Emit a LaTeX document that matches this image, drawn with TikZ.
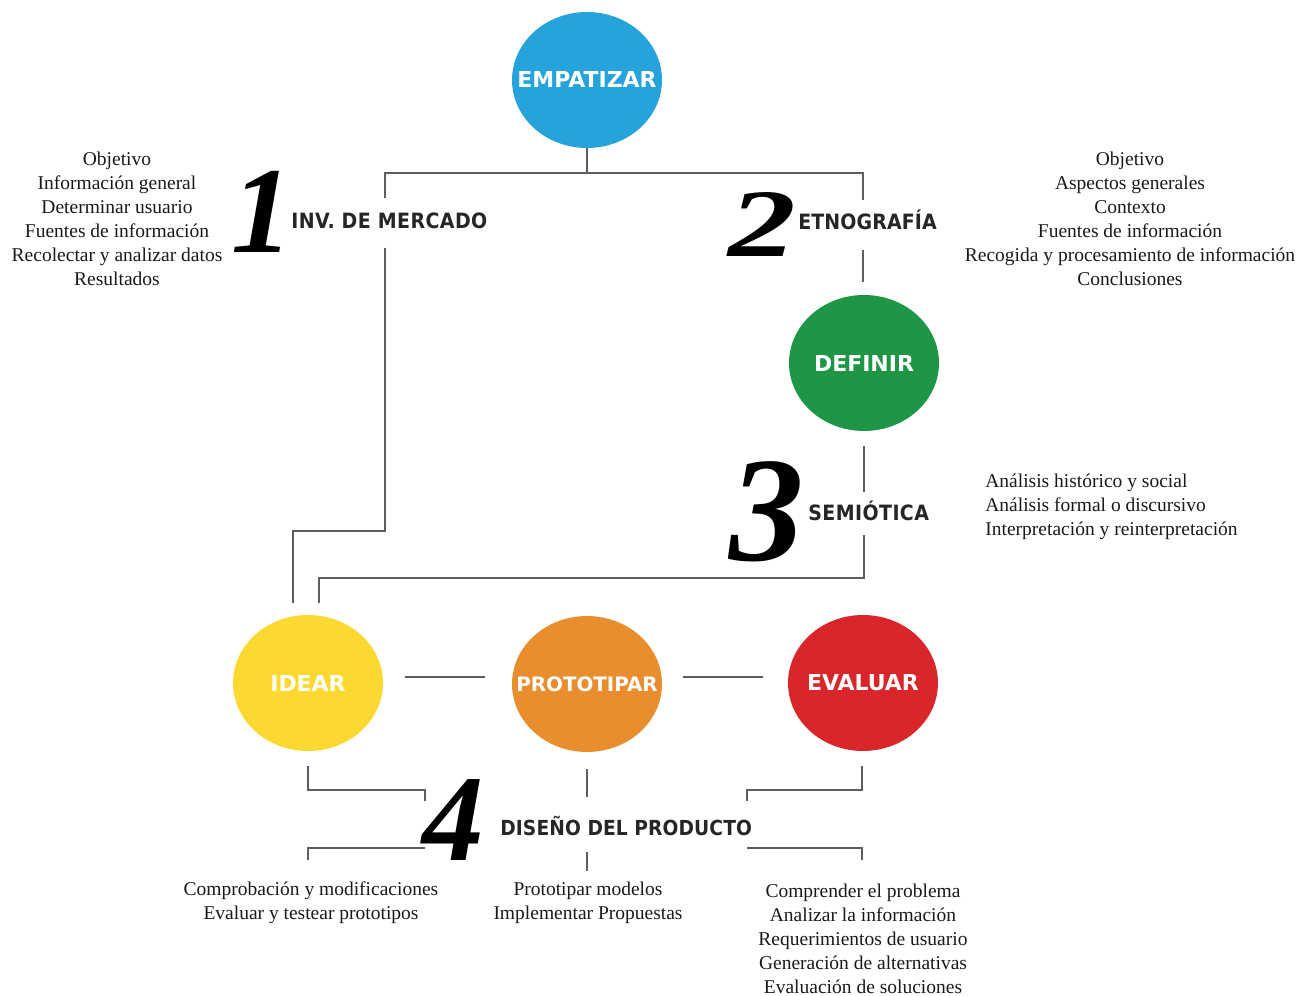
\documentclass[tikz,border=0pt]{standalone}
\usepackage{fontspec}
\setmainfont{Liberation Serif}
\newfontfamily\headfont[LetterSpace=2]{DejaVu Sans Condensed}
\newfontfamily\headfontb[LetterSpace=0.5]{DejaVu Sans Condensed}
\newfontfamily\circfont{DejaVu Sans}
\definecolor{cblue}{HTML}{27A3DB}
\definecolor{cgreen}{HTML}{1F9645}
\definecolor{cyellow}{HTML}{FCD930}
\definecolor{corange}{HTML}{E98E2E}
\definecolor{cred}{HTML}{D8262A}
\definecolor{lgray}{HTML}{5E5E5E}
\newcommand{\zw}[1]{\makebox[0pt]{#1}}
\begin{document}
\begin{tikzpicture}[x=0.02cm,y=-0.02cm,
  phase/.style={ellipse,minimum width=3cm,minimum height=2.72cm,inner sep=0pt,text=white,font=\circfont\bfseries\fontsize{12.5}{13}\selectfont},
  link/.style={draw=lgray,line width=1.1pt},
  head/.style={font=\headfont\bfseries\fontsize{12}{13}\selectfont,inner sep=0pt,anchor=west,text=black!85},
  bignum/.style={font=\bfseries\itshape\fontsize{70}{70}\selectfont,inner sep=0pt},
  list/.style={font=\fontsize{11.1}{13.7}\selectfont,align=center,inner sep=0pt,text=black!90}]
\usetikzlibrary{shapes.geometric}
\useasboundingbox (0,0) rectangle (1314,996);
% circles
\node[phase,fill=cblue] (emp) at (587,80) {\zw{EMPATIZAR}};
\node[phase,fill=cgreen] (def) at (864,363) {\zw{DEFINIR}};
\node[phase,fill=cyellow] (ide) at (308,683) {\zw{IDEAR}};
\node[phase,fill=corange,font=\circfont\bfseries\fontsize{11.3}{12}\selectfont] (pro) at (587,684) {\zw{PROTOTIPAR}};
\node[phase,fill=cred] (eva) at (863,683) {\zw{EVALUAR}};
% numerals and headings
\node[bignum] (n1) at (262,212) {1};
\node[bignum,xscale=1.4,font=\bfseries\itshape\fontsize{55}{55}\selectfont] (n2) at (762,225) {2};
\node[bignum,font=\bfseries\itshape\fontsize{85}{85}\selectfont] (n3) at (767,512) {3};
\node[bignum] (n4) at (453,820) {4};
\node[head] (h1) at (291,221) {INV. DE MERCADO};
\node[head,font=\headfontb\bfseries\fontsize{12}{13}\selectfont] (h2) at (798,220) {ETNOGRAFÍA};
\node[head] (h3) at (808,511) {SEMIÓTICA};
\node[head,font=\headfontb\bfseries\fontsize{11.8}{13}\selectfont] (h4) at (500,826) {DISEÑO DEL PRODUCTO};
% lists
\node[list] (l1) at (117,219) {Objetivo\\Información general\\Determinar usuario\\Fuentes de información\\Recolectar y analizar datos\\Resultados};
\node[list] (l2) at (1130,219) {Objetivo\\Aspectos generales\\Contexto\\Fuentes de información\\Recogida y procesamiento de información\\Conclusiones};
\node[list,align=left,anchor=west] (l3) at (985,507) {Análisis histórico y social\\Análisis formal o discursivo\\Interpretación y reinterpretación};
\node[list] (l4) at (311,903) {Comprobación y modificaciones\\Evaluar y testear prototipos};
\node[list] (l5) at (588,903) {Prototipar modelos\\Implementar Propuestas};
\node[list] (l6) at (863,939) {Comprender el problema\\Analizar la información\\Requerimientos de usuario\\Generación de alternativas\\Evaluación de soluciones};
% connector coordinates
\coordinate (a1) at (587,173);
\coordinate (a2) at (385,173);
\coordinate (a3) at (863,173);
\coordinate (a4) at (385,198);
\coordinate (a5) at (863,200);
\coordinate (b1) at (385,248);
\coordinate (b2) at (385,531);
\coordinate (b3) at (293,531);
\coordinate (b4) at (293,603);
\coordinate (c1) at (863,250);
\coordinate (c2) at (863,282);
\coordinate (d1) at (864,446);
\coordinate (d2) at (864,492);
\coordinate (e1) at (864,535);
\coordinate (e2) at (864,578);
\coordinate (e3) at (319,578);
\coordinate (e4) at (319,603);
\coordinate (f1) at (405,677);
\coordinate (f2) at (485,677);
\coordinate (f3) at (683,677);
\coordinate (f4) at (763,677);
\coordinate (g1) at (308,766);
\coordinate (g2) at (308,790);
\coordinate (g3) at (425,790);
\coordinate (g4) at (425,801);
\coordinate (g5) at (425,848);
\coordinate (g6) at (308,848);
\coordinate (g7) at (308,860);
\coordinate (m1) at (587,769);
\coordinate (m2) at (587,797);
\coordinate (m3) at (587,852);
\coordinate (m4) at (587,871);
\coordinate (r1) at (862,766);
\coordinate (r2) at (862,790);
\coordinate (r3) at (747,790);
\coordinate (r4) at (747,801);
\coordinate (r5) at (747,848);
\coordinate (r6) at (862,848);
\coordinate (r7) at (862,860);
% connectors
\draw[link] (emp.south) -- (a1);
\draw[link] (a4) -- (a2) -- (a3) -- (a5);
\draw[link] (b1) -- (b2) -- (b3) -- (b4);
\draw[link] (c1) -- (c2);
\draw[link] (d1) -- (d2);
\draw[link] (e1) -- (e2) -- (e3) -- (e4);
\draw[link] (f1) -- (f2);
\draw[link] (f3) -- (f4);
\draw[link] (g1) -- (g2) -- (g3) -- (g4);
\draw[link] (g5) -- (g6) -- (g7);
\draw[link] (m1) -- (m2);
\draw[link] (m3) -- (m4);
\draw[link] (r1) -- (r2) -- (r3) -- (r4);
\draw[link] (r5) -- (r6) -- (r7);
\end{tikzpicture}
\end{document}
